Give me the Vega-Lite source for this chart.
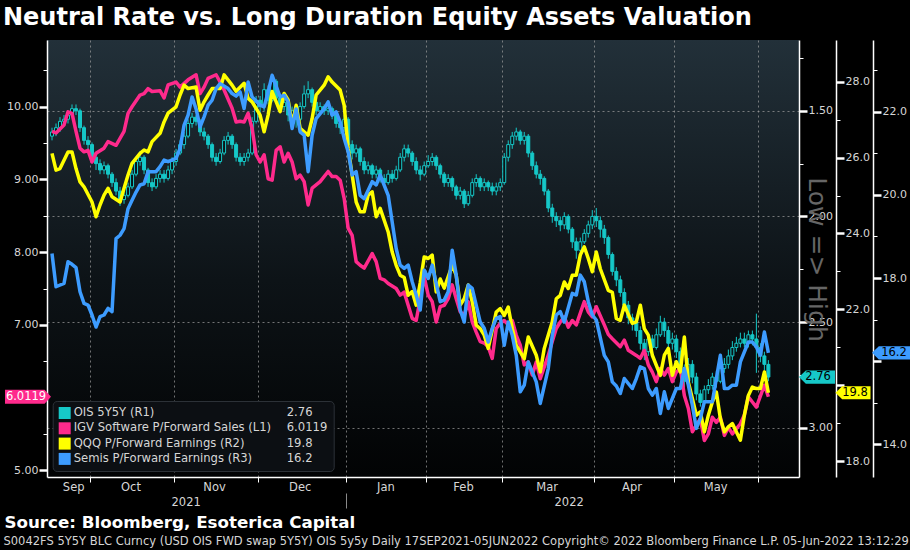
{
"$schema": "https://vega.github.io/schema/vega-lite/v6.json",
"width": 752, "height": 437,
"autosize": {"type": "none"},
"padding": {"left": 47, "top": 40, "right": 111, "bottom": 73},
"background": "#000000",
"title": {"text": "Neutral Rate vs. Long Duration Equity Assets Valuation", "anchor": "start", "frame": "group", "dx": -44, "offset": 10, "font": "DejaVu Sans", "fontSize": 24, "fontWeight": "bold", "color": "#ffffff"},
"config": {
  "view": {"stroke": null, "fill": {"gradient": "linear", "x1": 0, "y1": 0, "x2": 0, "y2": 1, "stops": [{"offset": 0, "color": "#223039"}, {"offset": 0.55, "color": "#0d1317"}, {"offset": 1, "color": "#020304"}]}},
  "axis": {"labelFont": "DejaVu Sans", "labelFontSize": 11, "labelColor": "#d6d6d6", "domainColor": "#ffffff", "domainWidth": 1.5, "tickColor": "#ffffff", "grid": false, "labelFlush": false, "labelOverlap": false, "titleLimit": 1000},
  "legend": {"labelFont": "DejaVu Sans", "labelFontSize": 12, "labelColor": "#d6d6d6", "labelLimit": 500}
},
"datasets": {
"ois": [
{"t":0,"date":"2021-09-17","open":1.62,"high":1.64,"low":1.58,"close":1.60},
{"t":1,"date":"2021-09-20","open":1.60,"high":1.62,"low":1.56,"close":1.58},
{"t":2,"date":"2021-09-21","open":1.58,"high":1.60,"low":1.53,"close":1.55},
{"t":3,"date":"2021-09-22","open":1.55,"high":1.57,"low":1.52,"close":1.54},
{"t":4,"date":"2021-09-23","open":1.54,"high":1.56,"low":1.50,"close":1.52},
{"t":5,"date":"2021-09-24","open":1.52,"high":1.53,"low":1.47,"close":1.49},
{"t":6,"date":"2021-09-27","open":1.49,"high":1.52,"low":1.47,"close":1.50},
{"t":7,"date":"2021-09-28","open":1.50,"high":1.60,"low":1.49,"close":1.58},
{"t":8,"date":"2021-09-29","open":1.58,"high":1.66,"low":1.57,"close":1.64},
{"t":9,"date":"2021-09-30","open":1.64,"high":1.69,"low":1.62,"close":1.66},
{"t":10,"date":"2021-10-01","open":1.66,"high":1.74,"low":1.65,"close":1.72},
{"t":11,"date":"2021-10-04","open":1.72,"high":1.78,"low":1.70,"close":1.75},
{"t":12,"date":"2021-10-05","open":1.75,"high":1.80,"low":1.73,"close":1.78},
{"t":13,"date":"2021-10-06","open":1.78,"high":1.80,"low":1.74,"close":1.76},
{"t":14,"date":"2021-10-07","open":1.76,"high":1.82,"low":1.75,"close":1.80},
{"t":15,"date":"2021-10-08","open":1.80,"high":1.86,"low":1.79,"close":1.84},
{"t":16,"date":"2021-10-11","open":1.84,"high":1.90,"low":1.82,"close":1.88},
{"t":17,"date":"2021-10-12","open":1.88,"high":1.95,"low":1.86,"close":1.92},
{"t":18,"date":"2021-10-13","open":1.92,"high":1.94,"low":1.88,"close":1.90},
{"t":19,"date":"2021-10-14","open":1.90,"high":1.91,"low":1.84,"close":1.86},
{"t":20,"date":"2021-10-15","open":1.86,"high":1.87,"low":1.78,"close":1.80},
{"t":21,"date":"2021-10-18","open":1.80,"high":1.81,"low":1.72,"close":1.74},
{"t":22,"date":"2021-10-19","open":1.74,"high":1.76,"low":1.69,"close":1.72},
{"t":23,"date":"2021-10-20","open":1.72,"high":1.80,"low":1.71,"close":1.78},
{"t":24,"date":"2021-10-21","open":1.78,"high":1.86,"low":1.77,"close":1.84},
{"t":25,"date":"2021-10-22","open":1.84,"high":1.88,"low":1.82,"close":1.86},
{"t":26,"date":"2021-10-25","open":1.86,"high":1.87,"low":1.80,"close":1.82},
{"t":27,"date":"2021-10-26","open":1.82,"high":1.84,"low":1.78,"close":1.80},
{"t":28,"date":"2021-10-27","open":1.80,"high":1.84,"low":1.78,"close":1.82},
{"t":29,"date":"2021-10-28","open":1.82,"high":1.83,"low":1.76,"close":1.78},
{"t":30,"date":"2021-10-29","open":1.78,"high":1.80,"low":1.72,"close":1.74},
{"t":31,"date":"2021-11-01","open":1.74,"high":1.76,"low":1.68,"close":1.70},
{"t":32,"date":"2021-11-02","open":1.70,"high":1.71,"low":1.64,"close":1.66},
{"t":33,"date":"2021-11-03","open":1.66,"high":1.68,"low":1.60,"close":1.62},
{"t":34,"date":"2021-11-04","open":1.62,"high":1.63,"low":1.54,"close":1.56},
{"t":35,"date":"2021-11-05","open":1.56,"high":1.58,"low":1.51,"close":1.53},
{"t":36,"date":"2021-11-08","open":1.53,"high":1.57,"low":1.52,"close":1.55},
{"t":37,"date":"2021-11-09","open":1.55,"high":1.62,"low":1.54,"close":1.60},
{"t":38,"date":"2021-11-10","open":1.60,"high":1.64,"low":1.58,"close":1.62},
{"t":39,"date":"2021-11-11","open":1.62,"high":1.68,"low":1.61,"close":1.66},
{"t":40,"date":"2021-11-12","open":1.66,"high":1.74,"low":1.65,"close":1.72},
{"t":41,"date":"2021-11-15","open":1.72,"high":1.76,"low":1.70,"close":1.74},
{"t":42,"date":"2021-11-16","open":1.74,"high":1.75,"low":1.68,"close":1.70},
{"t":43,"date":"2021-11-17","open":1.70,"high":1.71,"low":1.62,"close":1.64},
{"t":44,"date":"2021-11-18","open":1.64,"high":1.66,"low":1.60,"close":1.62},
{"t":45,"date":"2021-11-19","open":1.62,"high":1.68,"low":1.61,"close":1.66},
{"t":46,"date":"2021-11-22","open":1.66,"high":1.74,"low":1.65,"close":1.72},
{"t":47,"date":"2021-11-23","open":1.72,"high":1.76,"low":1.70,"close":1.74},
{"t":48,"date":"2021-11-24","open":1.74,"high":1.76,"low":1.70,"close":1.72},
{"t":49,"date":"2021-11-26","open":1.72,"high":1.74,"low":1.68,"close":1.70},
{"t":50,"date":"2021-11-29","open":1.70,"high":1.71,"low":1.53,"close":1.55},
{"t":51,"date":"2021-11-30","open":1.55,"high":1.56,"low":1.43,"close":1.45},
{"t":52,"date":"2021-12-01","open":1.45,"high":1.51,"low":1.43,"close":1.48},
{"t":53,"date":"2021-12-02","open":1.48,"high":1.50,"low":1.37,"close":1.40},
{"t":54,"date":"2021-12-03","open":1.40,"high":1.47,"low":1.38,"close":1.45},
{"t":55,"date":"2021-12-06","open":1.45,"high":1.46,"low":1.33,"close":1.36},
{"t":56,"date":"2021-12-07","open":1.36,"high":1.46,"low":1.35,"close":1.44},
{"t":57,"date":"2021-12-08","open":1.44,"high":1.50,"low":1.42,"close":1.48},
{"t":58,"date":"2021-12-09","open":1.48,"high":1.50,"low":1.44,"close":1.46},
{"t":59,"date":"2021-12-10","open":1.46,"high":1.55,"low":1.45,"close":1.52},
{"t":60,"date":"2021-12-13","open":1.52,"high":1.56,"low":1.48,"close":1.50},
{"t":61,"date":"2021-12-14","open":1.50,"high":1.58,"low":1.49,"close":1.54},
{"t":62,"date":"2021-12-15","open":1.54,"high":1.55,"low":1.46,"close":1.48},
{"t":63,"date":"2021-12-16","open":1.48,"high":1.49,"low":1.38,"close":1.42},
{"t":64,"date":"2021-12-17","open":1.42,"high":1.44,"low":1.36,"close":1.40},
{"t":65,"date":"2021-12-20","open":1.40,"high":1.48,"low":1.39,"close":1.46},
{"t":66,"date":"2021-12-21","open":1.46,"high":1.52,"low":1.45,"close":1.50},
{"t":67,"date":"2021-12-22","open":1.50,"high":1.52,"low":1.46,"close":1.48},
{"t":68,"date":"2021-12-23","open":1.48,"high":1.52,"low":1.47,"close":1.50},
{"t":69,"date":"2021-12-27","open":1.50,"high":1.52,"low":1.47,"close":1.49},
{"t":70,"date":"2021-12-28","open":1.49,"high":1.54,"low":1.48,"close":1.52},
{"t":71,"date":"2021-12-29","open":1.52,"high":1.58,"low":1.51,"close":1.56},
{"t":72,"date":"2021-12-30","open":1.56,"high":1.61,"low":1.54,"close":1.58},
{"t":73,"date":"2021-12-31","open":1.58,"high":1.60,"low":1.52,"close":1.54},
{"t":74,"date":"2022-01-03","open":1.54,"high":1.68,"low":1.53,"close":1.66},
{"t":75,"date":"2022-01-04","open":1.66,"high":1.73,"low":1.64,"close":1.70},
{"t":76,"date":"2022-01-05","open":1.70,"high":1.72,"low":1.66,"close":1.68},
{"t":77,"date":"2022-01-06","open":1.68,"high":1.76,"low":1.67,"close":1.74},
{"t":78,"date":"2022-01-07","open":1.74,"high":1.80,"low":1.72,"close":1.78},
{"t":79,"date":"2022-01-10","open":1.78,"high":1.80,"low":1.74,"close":1.76},
{"t":80,"date":"2022-01-11","open":1.76,"high":1.82,"low":1.75,"close":1.80},
{"t":81,"date":"2022-01-12","open":1.80,"high":1.82,"low":1.76,"close":1.78},
{"t":82,"date":"2022-01-13","open":1.78,"high":1.84,"low":1.77,"close":1.82},
{"t":83,"date":"2022-01-14","open":1.82,"high":1.86,"low":1.80,"close":1.84},
{"t":84,"date":"2022-01-18","open":1.84,"high":1.85,"low":1.78,"close":1.80},
{"t":85,"date":"2022-01-19","open":1.80,"high":1.84,"low":1.78,"close":1.82},
{"t":86,"date":"2022-01-20","open":1.82,"high":1.83,"low":1.76,"close":1.78},
{"t":87,"date":"2022-01-21","open":1.78,"high":1.79,"low":1.70,"close":1.72},
{"t":88,"date":"2022-01-24","open":1.72,"high":1.74,"low":1.66,"close":1.68},
{"t":89,"date":"2022-01-25","open":1.68,"high":1.72,"low":1.66,"close":1.70},
{"t":90,"date":"2022-01-26","open":1.70,"high":1.76,"low":1.69,"close":1.74},
{"t":91,"date":"2022-01-27","open":1.74,"high":1.80,"low":1.72,"close":1.78},
{"t":92,"date":"2022-01-28","open":1.78,"high":1.83,"low":1.76,"close":1.80},
{"t":93,"date":"2022-01-31","open":1.80,"high":1.81,"low":1.74,"close":1.76},
{"t":94,"date":"2022-02-01","open":1.76,"high":1.77,"low":1.71,"close":1.74},
{"t":95,"date":"2022-02-02","open":1.74,"high":1.76,"low":1.70,"close":1.72},
{"t":96,"date":"2022-02-03","open":1.72,"high":1.78,"low":1.71,"close":1.76},
{"t":97,"date":"2022-02-04","open":1.76,"high":1.82,"low":1.75,"close":1.80},
{"t":98,"date":"2022-02-07","open":1.80,"high":1.86,"low":1.79,"close":1.84},
{"t":99,"date":"2022-02-08","open":1.84,"high":1.86,"low":1.80,"close":1.82},
{"t":100,"date":"2022-02-09","open":1.82,"high":1.88,"low":1.81,"close":1.86},
{"t":101,"date":"2022-02-10","open":1.86,"high":1.92,"low":1.85,"close":1.90},
{"t":102,"date":"2022-02-11","open":1.90,"high":1.92,"low":1.86,"close":1.88},
{"t":103,"date":"2022-02-14","open":1.88,"high":1.96,"low":1.87,"close":1.94},
{"t":104,"date":"2022-02-15","open":1.94,"high":1.95,"low":1.88,"close":1.90},
{"t":105,"date":"2022-02-16","open":1.90,"high":1.91,"low":1.82,"close":1.84},
{"t":106,"date":"2022-02-17","open":1.84,"high":1.86,"low":1.80,"close":1.82},
{"t":107,"date":"2022-02-18","open":1.82,"high":1.88,"low":1.81,"close":1.86},
{"t":108,"date":"2022-02-22","open":1.86,"high":1.88,"low":1.82,"close":1.84},
{"t":109,"date":"2022-02-23","open":1.84,"high":1.88,"low":1.83,"close":1.86},
{"t":110,"date":"2022-02-24","open":1.86,"high":1.90,"low":1.84,"close":1.88},
{"t":111,"date":"2022-02-25","open":1.88,"high":1.90,"low":1.84,"close":1.86},
{"t":112,"date":"2022-02-28","open":1.86,"high":1.88,"low":1.82,"close":1.84},
{"t":113,"date":"2022-03-01","open":1.84,"high":1.85,"low":1.70,"close":1.72},
{"t":114,"date":"2022-03-02","open":1.72,"high":1.74,"low":1.64,"close":1.66},
{"t":115,"date":"2022-03-03","open":1.66,"high":1.68,"low":1.60,"close":1.62},
{"t":116,"date":"2022-03-04","open":1.62,"high":1.64,"low":1.58,"close":1.60},
{"t":117,"date":"2022-03-07","open":1.60,"high":1.66,"low":1.59,"close":1.64},
{"t":118,"date":"2022-03-08","open":1.64,"high":1.66,"low":1.60,"close":1.62},
{"t":119,"date":"2022-03-09","open":1.62,"high":1.72,"low":1.61,"close":1.70},
{"t":120,"date":"2022-03-10","open":1.70,"high":1.78,"low":1.69,"close":1.76},
{"t":121,"date":"2022-03-11","open":1.76,"high":1.82,"low":1.74,"close":1.80},
{"t":122,"date":"2022-03-14","open":1.80,"high":1.85,"low":1.78,"close":1.82},
{"t":123,"date":"2022-03-15","open":1.82,"high":1.90,"low":1.81,"close":1.88},
{"t":124,"date":"2022-03-16","open":1.88,"high":1.98,"low":1.87,"close":1.96},
{"t":125,"date":"2022-03-17","open":1.96,"high":2.03,"low":1.94,"close":2.00},
{"t":126,"date":"2022-03-18","open":2.00,"high":2.05,"low":1.98,"close":2.02},
{"t":127,"date":"2022-03-21","open":2.02,"high":2.07,"low":2.00,"close":2.04},
{"t":128,"date":"2022-03-22","open":2.04,"high":2.06,"low":1.98,"close":2.00},
{"t":129,"date":"2022-03-23","open":2.00,"high":2.08,"low":1.99,"close":2.06},
{"t":130,"date":"2022-03-24","open":2.06,"high":2.15,"low":2.05,"close":2.12},
{"t":131,"date":"2022-03-25","open":2.12,"high":2.20,"low":2.10,"close":2.16},
{"t":132,"date":"2022-03-28","open":2.16,"high":2.17,"low":2.10,"close":2.12},
{"t":133,"date":"2022-03-29","open":2.12,"high":2.13,"low":2.06,"close":2.08},
{"t":134,"date":"2022-03-30","open":2.08,"high":2.10,"low":2.02,"close":2.04},
{"t":135,"date":"2022-03-31","open":2.04,"high":2.06,"low":1.97,"close":2.00},
{"t":136,"date":"2022-04-01","open":2.00,"high":2.05,"low":1.96,"close":2.02},
{"t":137,"date":"2022-04-04","open":2.02,"high":2.10,"low":2.00,"close":2.06},
{"t":138,"date":"2022-04-05","open":2.06,"high":2.13,"low":2.04,"close":2.10},
{"t":139,"date":"2022-04-06","open":2.10,"high":2.20,"low":2.09,"close":2.18},
{"t":140,"date":"2022-04-07","open":2.18,"high":2.28,"low":2.17,"close":2.26},
{"t":141,"date":"2022-04-08","open":2.26,"high":2.33,"low":2.24,"close":2.30},
{"t":142,"date":"2022-04-11","open":2.30,"high":2.38,"low":2.28,"close":2.36},
{"t":143,"date":"2022-04-12","open":2.36,"high":2.45,"low":2.34,"close":2.42},
{"t":144,"date":"2022-04-13","open":2.42,"high":2.51,"low":2.40,"close":2.48},
{"t":145,"date":"2022-04-14","open":2.48,"high":2.54,"low":2.46,"close":2.50},
{"t":146,"date":"2022-04-18","open":2.50,"high":2.57,"low":2.48,"close":2.54},
{"t":147,"date":"2022-04-19","open":2.54,"high":2.63,"low":2.52,"close":2.60},
{"t":148,"date":"2022-04-20","open":2.60,"high":2.68,"low":2.58,"close":2.64},
{"t":149,"date":"2022-04-21","open":2.64,"high":2.66,"low":2.56,"close":2.58},
{"t":150,"date":"2022-04-22","open":2.58,"high":2.65,"low":2.56,"close":2.62},
{"t":151,"date":"2022-04-25","open":2.62,"high":2.63,"low":2.53,"close":2.56},
{"t":152,"date":"2022-04-26","open":2.56,"high":2.57,"low":2.47,"close":2.50},
{"t":153,"date":"2022-04-27","open":2.50,"high":2.57,"low":2.48,"close":2.54},
{"t":154,"date":"2022-04-28","open":2.54,"high":2.63,"low":2.52,"close":2.60},
{"t":155,"date":"2022-04-29","open":2.60,"high":2.63,"low":2.55,"close":2.58},
{"t":156,"date":"2022-05-02","open":2.58,"high":2.67,"low":2.56,"close":2.64},
{"t":157,"date":"2022-05-03","open":2.64,"high":2.75,"low":2.62,"close":2.72},
{"t":158,"date":"2022-05-04","open":2.72,"high":2.81,"low":2.70,"close":2.78},
{"t":159,"date":"2022-05-05","open":2.78,"high":2.80,"low":2.67,"close":2.70},
{"t":160,"date":"2022-05-06","open":2.70,"high":2.79,"low":2.68,"close":2.76},
{"t":161,"date":"2022-05-09","open":2.76,"high":2.87,"low":2.74,"close":2.84},
{"t":162,"date":"2022-05-10","open":2.84,"high":2.90,"low":2.82,"close":2.88},
{"t":163,"date":"2022-05-11","open":2.88,"high":2.89,"low":2.80,"close":2.82},
{"t":164,"date":"2022-05-12","open":2.82,"high":2.84,"low":2.77,"close":2.80},
{"t":165,"date":"2022-05-13","open":2.80,"high":2.82,"low":2.74,"close":2.76},
{"t":166,"date":"2022-05-16","open":2.76,"high":2.81,"low":2.73,"close":2.78},
{"t":167,"date":"2022-05-17","open":2.78,"high":2.79,"low":2.70,"close":2.72},
{"t":168,"date":"2022-05-18","open":2.72,"high":2.74,"low":2.67,"close":2.70},
{"t":169,"date":"2022-05-19","open":2.70,"high":2.72,"low":2.63,"close":2.66},
{"t":170,"date":"2022-05-20","open":2.66,"high":2.68,"low":2.59,"close":2.62},
{"t":171,"date":"2022-05-23","open":2.62,"high":2.64,"low":2.57,"close":2.60},
{"t":172,"date":"2022-05-24","open":2.60,"high":2.62,"low":2.55,"close":2.58},
{"t":173,"date":"2022-05-25","open":2.58,"high":2.62,"low":2.55,"close":2.60},
{"t":174,"date":"2022-05-26","open":2.60,"high":2.62,"low":2.54,"close":2.56},
{"t":175,"date":"2022-05-27","open":2.56,"high":2.61,"low":2.54,"close":2.58},
{"t":176,"date":"2022-05-31","open":2.58,"high":2.74,"low":2.46,"close":2.62},
{"t":177,"date":"2022-06-01","open":2.62,"high":2.69,"low":2.60,"close":2.66},
{"t":178,"date":"2022-06-02","open":2.66,"high":2.73,"low":2.64,"close":2.70},
{"t":179,"date":"2022-06-03","open":2.70,"high":2.78,"low":2.68,"close":2.76}
],
"igv": [
{"t":0,"v":9.66},{"t":1,"v":9.64},{"t":3,"v":9.75},{"t":4,"v":9.93},{"t":5,"v":9.91},{"t":6,"v":9.66},{"t":7,"v":9.43},{"t":8,"v":9.38},{"t":9,"v":9.40},{"t":10,"v":9.24},
{"t":11,"v":9.36},{"t":13,"v":9.43},{"t":14,"v":9.52},{"t":16,"v":9.47},{"t":18,"v":9.66},{"t":19,"v":9.91},{"t":20,"v":10.00},{"t":22,"v":10.16},{"t":23,"v":10.18},{"t":24,"v":10.25},
{"t":25,"v":10.21},{"t":27,"v":10.22},{"t":28,"v":10.12},{"t":29,"v":10.30},{"t":31,"v":10.34},{"t":32,"v":10.27},{"t":34,"v":10.37},{"t":36,"v":10.44},{"t":37,"v":10.18},{"t":38,"v":10.27},
{"t":39,"v":10.39},{"t":41,"v":10.44},{"t":42,"v":10.34},{"t":43,"v":10.23},{"t":45,"v":9.98},{"t":46,"v":9.79},{"t":47,"v":9.80},{"t":48,"v":9.79},{"t":49,"v":9.91},{"t":50,"v":9.70},
{"t":51,"v":9.34},{"t":52,"v":9.24},{"t":53,"v":9.34},{"t":54,"v":9.01},{"t":55,"v":8.99},{"t":56,"v":9.40},{"t":57,"v":9.45},{"t":58,"v":9.24},{"t":59,"v":9.36},{"t":60,"v":9.24},
{"t":61,"v":9.01},{"t":62,"v":9.06},{"t":63,"v":8.97},{"t":64,"v":8.65},{"t":65,"v":8.88},{"t":67,"v":8.97},{"t":69,"v":9.11},{"t":70,"v":9.04},{"t":71,"v":9.04},{"t":72,"v":8.99},
{"t":73,"v":8.74},{"t":74,"v":8.33},{"t":75,"v":8.23},{"t":76,"v":7.87},{"t":77,"v":7.82},{"t":78,"v":7.78},{"t":80,"v":7.98},{"t":81,"v":7.87},{"t":82,"v":7.64},{"t":83,"v":7.62},
{"t":84,"v":7.57},{"t":86,"v":7.50},{"t":87,"v":7.41},{"t":88,"v":7.45},{"t":89,"v":7.27},{"t":90,"v":7.09},{"t":91,"v":7.06},{"t":92,"v":7.36},{"t":93,"v":7.66},{"t":94,"v":7.41},
{"t":95,"v":7.32},{"t":96,"v":7.04},{"t":97,"v":7.25},{"t":98,"v":7.27},{"t":99,"v":7.36},{"t":100,"v":7.55},{"t":101,"v":7.36},{"t":102,"v":7.18},{"t":103,"v":7.13},{"t":104,"v":7.32},
{"t":105,"v":7.04},{"t":106,"v":6.90},{"t":107,"v":6.77},{"t":108,"v":6.75},{"t":109,"v":6.70},{"t":110,"v":6.54},{"t":111,"v":6.95},{"t":112,"v":7.02},{"t":113,"v":7.06},{"t":114,"v":7.00},
{"t":115,"v":7.06},{"t":116,"v":6.86},{"t":117,"v":6.72},{"t":118,"v":6.45},{"t":119,"v":6.49},{"t":120,"v":6.31},{"t":121,"v":6.49},{"t":122,"v":6.26},{"t":124,"v":6.58},{"t":125,"v":6.77},
{"t":126,"v":6.95},{"t":127,"v":7.04},{"t":128,"v":7.11},{"t":129,"v":6.97},{"t":130,"v":7.06},{"t":131,"v":7.00},{"t":133,"v":7.32},{"t":134,"v":7.18},{"t":135,"v":7.11},{"t":136,"v":7.25},
{"t":138,"v":7.00},{"t":139,"v":6.87},{"t":140,"v":6.81},{"t":142,"v":6.70},{"t":143,"v":6.79},{"t":144,"v":6.65},{"t":146,"v":6.58},{"t":147,"v":6.54},{"t":148,"v":6.65},{"t":149,"v":6.45},
{"t":150,"v":6.35},{"t":151,"v":6.22},{"t":152,"v":6.40},{"t":153,"v":6.31},{"t":154,"v":6.40},{"t":155,"v":6.22},{"t":156,"v":6.35},{"t":157,"v":6.40},{"t":158,"v":6.03},{"t":159,"v":5.85},
{"t":160,"v":5.53},{"t":162,"v":5.71},{"t":163,"v":5.41},{"t":164,"v":5.50},{"t":165,"v":5.73},{"t":166,"v":5.66},{"t":167,"v":5.73},{"t":168,"v":5.48},{"t":169,"v":5.59},{"t":170,"v":5.50},
{"t":172,"v":5.64},{"t":173,"v":5.76},{"t":174,"v":6.01},{"t":175,"v":5.94},{"t":176,"v":5.87},{"t":178,"v":6.17},{"t":179,"v":6.0119}
],
"qqq": [
{"t":0,"v":26.11},{"t":1,"v":25.67},{"t":2,"v":25.71},{"t":4,"v":26.15},{"t":5,"v":26.15},{"t":6,"v":25.71},{"t":7,"v":25.36},{"t":8,"v":25.23},{"t":10,"v":24.83},{"t":11,"v":24.44},
{"t":12,"v":24.75},{"t":13,"v":25.01},{"t":14,"v":25.19},{"t":15,"v":24.97},{"t":17,"v":24.83},{"t":18,"v":25.19},{"t":19,"v":25.54},{"t":20,"v":25.85},{"t":22,"v":26.11},{"t":23,"v":26.20},
{"t":24,"v":26.15},{"t":25,"v":26.42},{"t":27,"v":26.64},{"t":28,"v":26.94},{"t":29,"v":27.17},{"t":31,"v":27.34},{"t":32,"v":27.65},{"t":33,"v":27.91},{"t":34,"v":27.82},{"t":36,"v":27.86},
{"t":37,"v":27.25},{"t":38,"v":27.47},{"t":39,"v":27.65},{"t":40,"v":27.82},{"t":42,"v":27.82},{"t":43,"v":28.18},{"t":45,"v":27.91},{"t":46,"v":27.75},{"t":48,"v":27.96},{"t":49,"v":27.56},
{"t":50,"v":27.47},{"t":52,"v":27.12},{"t":53,"v":26.68},{"t":54,"v":27.12},{"t":55,"v":27.74},{"t":57,"v":27.21},{"t":58,"v":27.69},{"t":59,"v":27.52},{"t":60,"v":26.86},{"t":61,"v":27.38},
{"t":62,"v":26.77},{"t":64,"v":26.59},{"t":65,"v":27.03},{"t":66,"v":27.65},{"t":68,"v":27.91},{"t":69,"v":28.13},{"t":70,"v":27.99},{"t":72,"v":27.78},{"t":73,"v":27.38},{"t":74,"v":26.24},
{"t":75,"v":25.54},{"t":76,"v":24.83},{"t":77,"v":24.57},{"t":78,"v":24.57},{"t":79,"v":25.01},{"t":80,"v":25.10},{"t":81,"v":24.44},{"t":82,"v":24.66},{"t":84,"v":24.04},{"t":85,"v":23.51},
{"t":86,"v":23.16},{"t":87,"v":22.90},{"t":88,"v":22.84},{"t":89,"v":22.37},{"t":90,"v":22.47},{"t":91,"v":22.11},{"t":92,"v":22.70},{"t":93,"v":23.38},{"t":94,"v":23.34},{"t":95,"v":23.43},
{"t":96,"v":22.46},{"t":97,"v":22.80},{"t":98,"v":22.56},{"t":100,"v":23.16},{"t":101,"v":22.90},{"t":102,"v":22.11},{"t":103,"v":22.28},{"t":104,"v":22.64},{"t":105,"v":22.20},{"t":106,"v":21.58},
{"t":107,"v":21.49},{"t":108,"v":21.32},{"t":109,"v":20.97},{"t":111,"v":21.93},{"t":112,"v":22.02},{"t":113,"v":21.84},{"t":114,"v":22.06},{"t":115,"v":21.49},{"t":116,"v":21.05},{"t":118,"v":20.70},
{"t":119,"v":21.27},{"t":121,"v":20.79},{"t":122,"v":20.35},{"t":123,"v":20.97},{"t":125,"v":21.67},{"t":126,"v":22.28},{"t":127,"v":22.37},{"t":128,"v":22.72},{"t":129,"v":22.55},{"t":130,"v":22.90},
{"t":131,"v":22.90},{"t":132,"v":23.43},{"t":133,"v":23.65},{"t":134,"v":23.34},{"t":135,"v":22.99},{"t":136,"v":23.51},{"t":137,"v":23.07},{"t":139,"v":22.50},{"t":140,"v":22.45},{"t":141,"v":21.76},
{"t":142,"v":21.71},{"t":143,"v":22.11},{"t":145,"v":21.63},{"t":146,"v":21.67},{"t":147,"v":22.11},{"t":148,"v":21.49},{"t":149,"v":21.32},{"t":150,"v":20.79},{"t":152,"v":20.26},{"t":153,"v":20.79},
{"t":154,"v":20.97},{"t":155,"v":20.26},{"t":156,"v":20.62},{"t":157,"v":20.35},{"t":158,"v":21.27},{"t":159,"v":20.08},{"t":160,"v":19.65},{"t":161,"v":19.21},{"t":162,"v":19.30},{"t":163,"v":18.77},
{"t":164,"v":19.21},{"t":165,"v":19.56},{"t":166,"v":19.82},{"t":167,"v":19.12},{"t":168,"v":18.77},{"t":169,"v":18.90},{"t":170,"v":18.99},{"t":172,"v":18.55},{"t":173,"v":19.21},{"t":174,"v":19.73},
{"t":175,"v":19.95},{"t":176,"v":19.91},{"t":177,"v":19.91},{"t":178,"v":20.35},{"t":179,"v":19.8}
],
"semis": [
{"t":0,"v":18.59},{"t":1,"v":17.79},{"t":3,"v":17.87},{"t":4,"v":18.39},{"t":5,"v":18.33},{"t":6,"v":18.25},{"t":7,"v":17.67},{"t":8,"v":17.39},{"t":9,"v":17.35},{"t":10,"v":17.11},
{"t":11,"v":16.82},{"t":12,"v":17.07},{"t":13,"v":17.11},{"t":14,"v":17.27},{"t":15,"v":17.19},{"t":16,"v":18.95},{"t":17,"v":19.03},{"t":18,"v":19.19},{"t":19,"v":19.67},{"t":20,"v":19.87},
{"t":21,"v":20.07},{"t":22,"v":20.24},{"t":23,"v":20.27},{"t":24,"v":20.56},{"t":26,"v":20.56},{"t":27,"v":20.68},{"t":28,"v":20.84},{"t":29,"v":20.80},{"t":31,"v":20.88},{"t":32,"v":21.12},
{"t":33,"v":21.68},{"t":34,"v":21.92},{"t":35,"v":22.36},{"t":36,"v":22.07},{"t":37,"v":21.64},{"t":38,"v":21.88},{"t":39,"v":22.16},{"t":40,"v":22.28},{"t":41,"v":22.56},{"t":42,"v":22.68},
{"t":44,"v":22.56},{"t":45,"v":22.44},{"t":46,"v":22.38},{"t":47,"v":22.48},{"t":48,"v":22.08},{"t":49,"v":22.72},{"t":50,"v":22.36},{"t":52,"v":22.16},{"t":53,"v":22.12},{"t":54,"v":22.48},
{"t":55,"v":22.88},{"t":57,"v":22.36},{"t":58,"v":22.40},{"t":59,"v":22.24},{"t":60,"v":21.60},{"t":61,"v":22.07},{"t":62,"v":21.52},{"t":63,"v":21.44},{"t":64,"v":20.56},{"t":65,"v":21.44},
{"t":66,"v":21.84},{"t":68,"v":22.07},{"t":69,"v":22.24},{"t":70,"v":21.92},{"t":71,"v":22.00},{"t":72,"v":21.76},{"t":73,"v":21.36},{"t":74,"v":21.04},{"t":75,"v":20.48},{"t":76,"v":20.56},
{"t":77,"v":19.99},{"t":78,"v":19.91},{"t":80,"v":20.32},{"t":81,"v":20.24},{"t":82,"v":20.48},{"t":84,"v":19.99},{"t":85,"v":19.35},{"t":86,"v":18.71},{"t":87,"v":18.31},{"t":88,"v":18.23},
{"t":89,"v":18.31},{"t":90,"v":17.91},{"t":91,"v":17.59},{"t":92,"v":17.23},{"t":93,"v":18.19},{"t":94,"v":17.99},{"t":95,"v":18.31},{"t":97,"v":17.43},{"t":98,"v":17.47},{"t":99,"v":17.67},
{"t":100,"v":18.67},{"t":101,"v":18.07},{"t":102,"v":17.23},{"t":103,"v":16.94},{"t":104,"v":17.83},{"t":105,"v":17.75},{"t":107,"v":16.94},{"t":108,"v":16.79},{"t":109,"v":16.46},{"t":110,"v":16.79},
{"t":111,"v":17.03},{"t":112,"v":17.07},{"t":113,"v":16.38},{"t":114,"v":16.94},{"t":115,"v":16.62},{"t":116,"v":16.14},{"t":117,"v":15.26},{"t":118,"v":15.42},{"t":119,"v":15.98},{"t":121,"v":15.50},
{"t":122,"v":14.98},{"t":124,"v":15.82},{"t":125,"v":16.62},{"t":126,"v":17.11},{"t":127,"v":17.19},{"t":128,"v":16.94},{"t":130,"v":17.63},{"t":131,"v":17.59},{"t":132,"v":18.07},{"t":133,"v":17.91},
{"t":134,"v":17.43},{"t":135,"v":17.11},{"t":136,"v":16.99},{"t":138,"v":16.14},{"t":139,"v":15.98},{"t":140,"v":15.50},{"t":141,"v":15.40},{"t":142,"v":15.22},{"t":143,"v":15.58},{"t":145,"v":15.34},
{"t":146,"v":15.58},{"t":147,"v":15.86},{"t":148,"v":15.82},{"t":149,"v":15.34},{"t":150,"v":15.18},{"t":151,"v":15.34},{"t":152,"v":14.74},{"t":153,"v":15.26},{"t":154,"v":14.86},{"t":156,"v":15.34},
{"t":157,"v":15.34},{"t":158,"v":15.82},{"t":159,"v":15.42},{"t":160,"v":14.94},{"t":161,"v":14.38},{"t":162,"v":14.62},{"t":163,"v":15.02},{"t":165,"v":15.02},{"t":166,"v":15.58},{"t":167,"v":16.14},
{"t":168,"v":15.34},{"t":169,"v":15.34},{"t":170,"v":15.42},{"t":171,"v":15.42},{"t":172,"v":15.98},{"t":174,"v":16.46},{"t":175,"v":16.46},{"t":176,"v":16.34},{"t":177,"v":16.14},{"t":178,"v":16.70},
{"t":179,"v":16.2}
],
"tags": [
{"series": "OIS", "label": "2.76", "v": 2.76},
{"series": "IGV", "label": "6.0119", "v": 6.0119},
{"series": "QQQ", "label": "19.8", "v": 19.8},
{"series": "Semis", "label": "16.2", "v": 16.2}
]
},
"layer": [
{
 "data": {"name": "ois"},
 "mark": {"type": "rule", "strokeWidth": 1},
 "encoding": {
  "x": {"field": "t", "type": "quantitative", "scale": {"domain": [0, 185.4], "nice": false, "zero": false},
        "axis": {"orient": "bottom", "values": [9.5, 30.5, 51.5, 73.5, 93.5, 112.5, 135.5, 155.5, 176.5], "labels": false, "grid": true, "gridDash": [2, 3], "gridColor": "#a0a0a0", "gridOpacity": 0.7, "tickSize": 5, "title": null}},
  "y": {"field": "low", "type": "quantitative", "scale": {"domain": [1.165, 3.233], "reverse": true, "nice": false, "zero": false},
        "axis": {"orient": "right", "values": [1.5, 2, 2.5, 3], "format": ".2f",
                 "grid": true, "gridDash": [2, 3], "gridColor": "#a0a0a0", "gridOpacity": 0.7,
                 "tickSize": 8, "tickWidth": 2.5, "labelPadding": 1,
                 "title": "Low => High", "titleAngle": 90, "titleX": 17, "titleY": 219, "titleAlign": "center", "titleBaseline": "middle",
                 "titleFont": "DejaVu Sans", "titleFontSize": 25, "titleFontWeight": "normal", "titleColor": "#666666"}},
  "y2": {"field": "high"},
  "color": {"datum": "OIS 5Y5Y (R1)",
            "scale": {"domain": ["OIS 5Y5Y (R1)", "IGV Software P/Forward Sales (L1)", "QQQ P/Forward Earnings (R2)", "Semis P/Forward Earnings (R3)", "2.76", "6.0119", "19.8", "16.2"],
                      "range": ["#16c8c8", "#ff2a8c", "#ffff00", "#3d9cff", "transparent", "transparent", "transparent", "transparent"]},
            "legend": {"orient": "none", "legendX": 5.7, "legendY": 361, "title": null, "columns": 2, "columnPadding": 0,
                       "symbolType": "square", "symbolSize": 144, "symbolStrokeWidth": 0,
                       "labelFontSize": 11.6, "labelOffset": 3, "rowPadding": 3.3, "padding": 6, "fillColor": "#0c0f13", "strokeColor": "#2c3137", "cornerRadius": 4,
                       "encode": {"symbols": {"update": {"fill": {"scale": "color", "field": "value"}, "fillOpacity": {"value": 1}, "stroke": {"value": "transparent"}, "strokeWidth": {"value": 0}}}}}}
 }
},
{
 "data": {"name": "ois"},
 "mark": {"type": "bar", "size": 3, "stroke": "#16c8c8", "strokeWidth": 1},
 "encoding": {
  "x": {"field": "t", "type": "quantitative", "scale": {"domain": [0, 185.4], "nice": false, "zero": false}, "axis": null},
  "y": {"field": "open", "type": "quantitative", "scale": {"domain": [1.165, 3.233], "reverse": true, "nice": false, "zero": false},
        "axis": {"orient": "right", "values": [1.25, 1.75, 2.25, 2.75], "labels": false, "domain": false, "tickSize": 4, "tickWidth": 1, "grid": false, "title": null}},
  "y2": {"field": "close"},
  "fill": {"condition": {"test": "datum.close > datum.open", "value": "#16c8c8"}, "value": "#0a1418"}
 }
},
{
 "data": {"name": "igv"},
 "mark": {"type": "line", "strokeWidth": 3.5, "strokeJoin": "round"},
 "encoding": {
  "x": {"field": "t", "type": "quantitative", "scale": {"domain": [0, 185.4], "nice": false, "zero": false},
        "axis": {"orient": "bottom", "values": [5.3, 19.6, 40.5, 61.9, 83.3, 102.7, 123.6, 144.8, 165.7],
                 "labelExpr": "datum.value < 10 ? 'Sep' : datum.value < 30 ? 'Oct' : datum.value < 50 ? 'Nov' : datum.value < 70 ? 'Dec' : datum.value < 90 ? 'Jan' : datum.value < 110 ? 'Feb' : datum.value < 130 ? 'Mar' : datum.value < 150 ? 'Apr' : 'May'",
                 "ticks": false, "tickSize": 0, "domain": false, "labelPadding": 10, "labelBaseline": "middle", "labelFontSize": 11.5, "title": null}},
  "y": {"field": "v", "type": "quantitative", "scale": {"domain": [4.908, 10.918], "nice": false, "zero": false},
        "axis": {"orient": "left", "values": [5, 6, 7, 8, 9, 10], "labelExpr": "datum.value == 6 ? '' : format(datum.value, '.2f')", "tickSize": 8, "tickWidth": 2.5, "labelPadding": 1, "title": null}},
  "color": {"datum": "IGV Software P/Forward Sales (L1)"}
 }
},
{
 "data": {"name": "qqq"},
 "mark": {"type": "line", "strokeWidth": 3.5, "strokeJoin": "round"},
 "encoding": {
  "x": {"field": "t", "type": "quantitative", "scale": {"domain": [0, 185.4], "nice": false, "zero": false},
        "axis": {"orient": "bottom", "values": [33.4, 129.1], "labelExpr": "datum.value < 80 ? '2021' : '2022'", "ticks": false, "tickSize": 0, "domain": false,
                 "labelPadding": 25, "labelBaseline": "middle", "labelFontSize": 11.5,
                 "title": "Source: Bloomberg, Esoterica Capital", "titleX": -43, "titleY": 45, "titleAlign": "left", "titleBaseline": "middle",
                 "titleFont": "DejaVu Sans", "titleFontSize": 16.7, "titleFontWeight": "bold", "titleColor": "#ffffff"}},
  "y": {"field": "v", "type": "quantitative", "scale": {"domain": [17.58, 29.1], "nice": false, "zero": false},
        "axis": {"orient": "right", "offset": 37, "values": [18, 20, 22, 24, 26, 28], "labelExpr": "datum.value == 20 ? '' : format(datum.value, '.1f')", "tickSize": 8, "tickWidth": 2.5, "labelPadding": 1, "title": null}},
  "color": {"datum": "QQQ P/Forward Earnings (R2)"}
 }
},
{
 "data": {"name": "semis"},
 "mark": {"type": "line", "strokeWidth": 3.5, "strokeJoin": "round"},
 "encoding": {
  "x": {"field": "t", "type": "quantitative", "scale": {"domain": [0, 185.4], "nice": false, "zero": false},
        "axis": {"orient": "bottom", "values": [73.5], "labels": false, "domain": false, "tickSize": 15, "tickColor": "#8a8a8a", "tickWidth": 1, "offset": 16,
                 "title": "S0042FS 5Y5Y BLC Curncy (USD OIS FWD swap 5Y5Y) OIS 5y5y  Daily 17SEP2021-05JUN2022 Copyright\u00a9 2022 Bloomberg Finance L.P. 05-Jun-2022 13:12:29",
                 "titleX": -44, "titleY": 48, "titleAlign": "left", "titleBaseline": "middle",
                 "titleFont": "DejaVu Sans", "titleFontSize": 11.5, "titleFontWeight": "normal", "titleColor": "#d6d6d6"}},
  "y": {"field": "v", "type": "quantitative", "scale": {"domain": [13.21, 23.73], "nice": false, "zero": false},
        "axis": {"orient": "right", "offset": 74, "values": [14, 16, 18, 20, 22], "labelExpr": "datum.value == 16 ? '' : format(datum.value, '.1f')", "tickSize": 8, "tickWidth": 2.5, "labelPadding": 1, "title": null}},
  "color": {"datum": "Semis P/Forward Earnings (R3)"}
 }
},
{
 "data": {"name": "tags"},
 "transform": [{"filter": "datum.series == 'IGV'"}],
 "mark": {"type": "point", "shape": "M 1 0 L 0.72 -0.3 L -1 -0.3 L -1 0.3 L 0.72 0.3 Z", "size": 2116, "filled": true, "color": "#ff2a8c", "opacity": 1, "xOffset": -24},
 "encoding": {
  "x": {"datum": 0, "type": "quantitative", "scale": {"domain": [0, 185.4], "nice": false, "zero": false}, "axis": null},
  "y": {"field": "v", "type": "quantitative", "scale": {"domain": [4.908, 10.918], "nice": false, "zero": false},
        "axis": {"orient": "left", "values": [5.5, 6.5, 7.5, 8.5, 9.5, 10.5], "labels": false, "domain": false, "tickSize": 4, "tickWidth": 1, "title": null}}
 }
},
{
 "data": {"name": "tags"},
 "transform": [{"filter": "datum.series == 'IGV'"}],
 "mark": {"type": "text", "xOffset": -26, "font": "DejaVu Sans", "fontSize": 11.5, "color": "#ffffff", "align": "center", "baseline": "middle"},
 "encoding": {
  "x": {"datum": 0, "type": "quantitative", "scale": {"domain": [0, 185.4], "nice": false, "zero": false}, "axis": null},
  "y": {"field": "v", "type": "quantitative", "scale": {"domain": [4.908, 10.918], "nice": false, "zero": false}, "axis": null},
  "text": {"field": "label"}
 }
},
{
 "data": {"name": "tags"},
 "transform": [{"filter": "datum.series == 'OIS'"}],
 "mark": {"type": "point", "shape": "M -1 0 L -0.62 -0.37 L 1 -0.37 L 1 0.37 L -0.62 0.37 Z", "size": 1296, "filled": true, "color": "#16c8c8", "opacity": 1, "xOffset": 23},
 "encoding": {
  "x": {"datum": 185.4, "type": "quantitative", "scale": {"domain": [0, 185.4], "nice": false, "zero": false}, "axis": null},
  "y": {"field": "v", "type": "quantitative", "scale": {"domain": [1.165, 3.233], "reverse": true, "nice": false, "zero": false}, "axis": null}
 }
},
{
 "data": {"name": "tags"},
 "transform": [{"filter": "datum.series == 'OIS'"}],
 "mark": {"type": "text", "xOffset": 24, "font": "DejaVu Sans", "fontSize": 11.5, "color": "#000000", "align": "center", "baseline": "middle"},
 "encoding": {
  "x": {"datum": 185.4, "type": "quantitative", "scale": {"domain": [0, 185.4], "nice": false, "zero": false}, "axis": null},
  "y": {"field": "v", "type": "quantitative", "scale": {"domain": [1.165, 3.233], "reverse": true, "nice": false, "zero": false}, "axis": null},
  "text": {"field": "label"}
 }
},
{
 "data": {"name": "tags"},
 "transform": [{"filter": "datum.series == 'QQQ'"}],
 "mark": {"type": "point", "shape": "M -1 0 L -0.62 -0.37 L 1 -0.37 L 1 0.37 L -0.62 0.37 Z", "size": 1225, "filled": true, "color": "#ffff00", "opacity": 1, "xOffset": 59},
 "encoding": {
  "x": {"datum": 185.4, "type": "quantitative", "scale": {"domain": [0, 185.4], "nice": false, "zero": false}, "axis": null},
  "y": {"field": "v", "type": "quantitative", "scale": {"domain": [17.58, 29.1], "nice": false, "zero": false},
        "axis": {"orient": "right", "offset": 37, "values": [19, 21, 23, 25, 27], "labels": false, "domain": false, "tickSize": 4, "tickWidth": 1, "title": null}}
 }
},
{
 "data": {"name": "tags"},
 "transform": [{"filter": "datum.series == 'QQQ'"}],
 "mark": {"type": "text", "xOffset": 61, "font": "DejaVu Sans", "fontSize": 11.5, "color": "#000000", "align": "center", "baseline": "middle"},
 "encoding": {
  "x": {"datum": 185.4, "type": "quantitative", "scale": {"domain": [0, 185.4], "nice": false, "zero": false}, "axis": null},
  "y": {"field": "v", "type": "quantitative", "scale": {"domain": [17.58, 29.1], "nice": false, "zero": false}, "axis": null},
  "text": {"field": "label"}
 }
},
{
 "data": {"name": "tags"},
 "transform": [{"filter": "datum.series == 'Semis'"}],
 "mark": {"type": "point", "shape": "M -1 0 L -0.64 -0.35 L 1 -0.35 L 1 0.35 L -0.64 0.35 Z", "size": 1444, "filled": true, "color": "#3d9cff", "opacity": 1, "xOffset": 97},
 "encoding": {
  "x": {"datum": 185.4, "type": "quantitative", "scale": {"domain": [0, 185.4], "nice": false, "zero": false}, "axis": null},
  "y": {"field": "v", "type": "quantitative", "scale": {"domain": [13.21, 23.73], "nice": false, "zero": false},
        "axis": {"orient": "right", "offset": 74, "values": [15, 17, 19, 21, 23], "labels": false, "domain": false, "tickSize": 4, "tickWidth": 1, "title": null}}
 }
},
{
 "data": {"name": "tags"},
 "transform": [{"filter": "datum.series == 'Semis'"}],
 "mark": {"type": "text", "xOffset": 100, "font": "DejaVu Sans", "fontSize": 11.5, "color": "#000000", "align": "center", "baseline": "middle"},
 "encoding": {
  "x": {"datum": 185.4, "type": "quantitative", "scale": {"domain": [0, 185.4], "nice": false, "zero": false}, "axis": null},
  "y": {"field": "v", "type": "quantitative", "scale": {"domain": [13.21, 23.73], "nice": false, "zero": false}, "axis": null},
  "text": {"field": "label"}
 }
}
],
"resolve": {"scale": {"y": "independent"}, "axis": {"x": "independent", "y": "independent"}}
}
